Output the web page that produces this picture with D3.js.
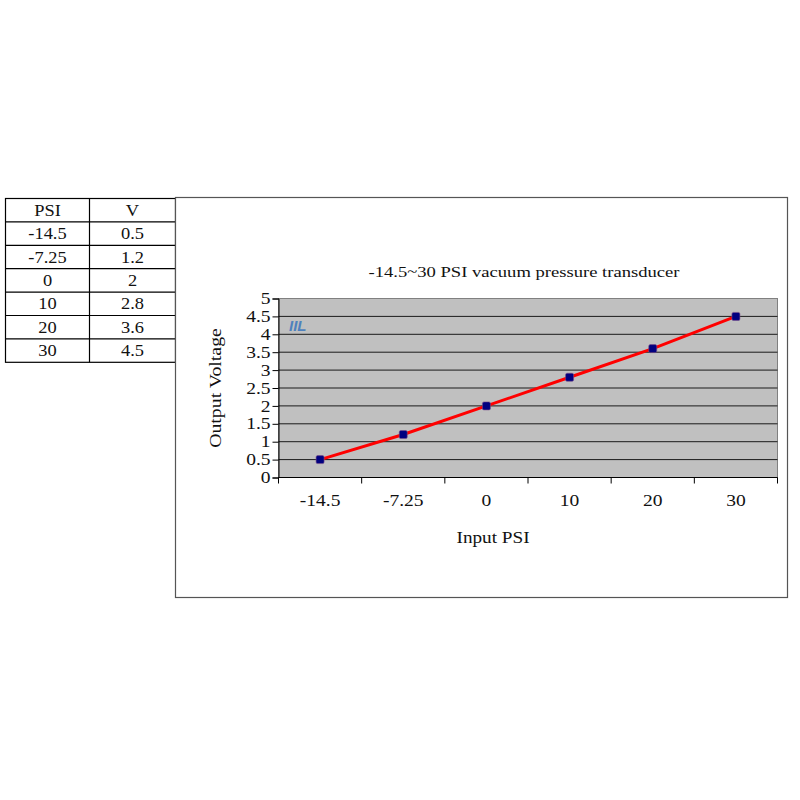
<!DOCTYPE html>
<html>
<head>
<meta charset="utf-8">
<script src="https://cdn.jsdelivr.net/npm/d3@7"></script>
<style>
  body { margin: 0; background: #fff; }
  text { font-family: "Liberation Serif", "Times New Roman", serif; }
</style>
</head>
<body>
<div id="chart"></div>
<script>
var width = 800, height = 800;

// data
var psi = ["-14.5", "-7.25", "0", "10", "20", "30"];
var volts = [0.5, 1.2, 2, 2.8, 3.6, 4.5];
var yTicks = [0, 0.5, 1, 1.5, 2, 2.5, 3, 3.5, 4, 4.5, 5];
var tableHead = ["PSI", "V"];
var tableVolts = ["0.5", "1.2", "2", "2.8", "3.6", "4.5"];

var svg = d3.select("#chart")
  .append("svg")
    .attr("width", width)
    .attr("height", height);

// the original's serif text looks stretched sideways a bit
function label(parent, x, y, str, size, sx, rot) {
  return parent.append("text")
      .attr("transform", "translate(" + x + "," + y + ")" + (rot ? " rotate(" + rot + ")" : "") + " scale(" + sx + ",1)")
      .attr("text-anchor", "middle")
      .attr("font-size", size)
      .attr("fill", "#111")
      .text(str);
}

// ---- table on the left
var rowH = 23.4, tableTop = 198.5;
var colX = [5.5, 89.5, 175.5];
var rows = [tableHead].concat(psi.map(function(p, i) { return [p, tableVolts[i]]; }));

var tbl = svg.append("g");
tbl.append("rect")
    .attr("x", colX[0]).attr("y", tableTop)
    .attr("width", colX[2] - colX[0]).attr("height", rowH * rows.length)
    .attr("fill", "none").attr("stroke", "#000").attr("stroke-width", 1.2);
rows.forEach(function(r, i) {
  if (i > 0) {
    tbl.append("line")
        .attr("x1", colX[0]).attr("x2", colX[2])
        .attr("y1", tableTop + i * rowH).attr("y2", tableTop + i * rowH)
        .attr("stroke", "#000").attr("stroke-width", 1.2);
  }
  r.forEach(function(c, j) {
    label(tbl, (colX[j] + colX[j + 1]) / 2, tableTop + i * rowH + rowH / 2 + 5.5, c, 16, 1.15);
  });
});
tbl.append("line")
    .attr("x1", colX[1]).attr("x2", colX[1])
    .attr("y1", tableTop).attr("y2", tableTop + rowH * rows.length)
    .attr("stroke", "#000").attr("stroke-width", 1.2);

// ---- chart frame
svg.append("rect")
    .attr("x", 175.5).attr("y", 197.5)
    .attr("width", 612).attr("height", 400)
    .attr("fill", "#fff").attr("stroke", "#555").attr("stroke-width", 1.2);

var plot = { left: 278.5, right: 777.5, top: 298.5, bottom: 477.5 };

var x = d3.scaleBand()
    .domain(psi)
    .range([plot.left, plot.right]);

var y = d3.scaleLinear()
    .domain([0, 5])
    .range([plot.bottom, plot.top]);

var g = svg.append("g");

g.append("rect")
    .attr("x", plot.left).attr("y", plot.top)
    .attr("width", plot.right - plot.left).attr("height", plot.bottom - plot.top)
    .attr("fill", "#c0c0c0").attr("stroke", "#808080");

g.selectAll("line.grid")
    .data(yTicks.filter(function(d) { return d > 0 && d < 5; }))
  .enter().append("line")
    .attr("class", "grid")
    .attr("x1", plot.left).attr("x2", plot.right)
    .attr("y1", function(d) { return y(d); })
    .attr("y2", function(d) { return y(d); })
    .attr("stroke", "#1a1a1a").attr("stroke-width", 1);

// watermark
g.append("text")
    .attr("x", 289).attr("y", 331)
    .attr("font-style", "italic").attr("font-weight", "bold")
    .attr("font-size", 15)
    .attr("fill", "#4f81bd")
    .style("font-family", "'Liberation Sans', Arial, sans-serif")
    .text("IIL");

// y axis
var yAxis = d3.axisLeft(y)
    .tickValues(yTicks)
    .tickSize(6)
    .tickFormat(d3.format("~g"));
var ya = svg.append("g")
    .attr("transform", "translate(" + plot.left + ",0)")
    .call(yAxis);
ya.select(".domain").attr("stroke", "#000");
ya.selectAll(".tick line").attr("stroke", "#000");
ya.selectAll(".tick text")
    .attr("font-size", 16)
    .attr("font-family", "Liberation Serif, serif")
    .attr("x", -6.5)
    .attr("transform", "scale(1.22,1)")
    .attr("fill", "#111");

// x axis: ticks at band boundaries like the original
var xa = svg.append("g")
    .attr("transform", "translate(0," + plot.bottom + ")");
xa.append("line")
    .attr("x1", plot.left).attr("x2", plot.right)
    .attr("stroke", "#000");
var bounds = psi.map(function(d) { return x(d); }).concat([x(psi[psi.length - 1]) + x.bandwidth()]);
xa.selectAll("line.tk")
    .data(bounds)
  .enter().append("line")
    .attr("class", "tk")
    .attr("x1", function(d) { return d; }).attr("x2", function(d) { return d; })
    .attr("y1", 0).attr("y2", 6)
    .attr("stroke", "#000");
psi.forEach(function(d) {
  label(xa, x(d) + x.bandwidth() / 2, 28.5, d, 16, 1.22);
});

// line + markers
var line = d3.line()
    .x(function(d, i) { return x(psi[i]) + x.bandwidth() / 2; })
    .y(function(d) { return y(d); });

g.append("path")
    .datum(volts)
    .attr("d", line)
    .attr("fill", "none")
    .attr("stroke", "#ff0000")
    .attr("stroke-width", 3);

g.selectAll("rect.mk")
    .data(volts)
  .enter().append("rect")
    .attr("class", "mk")
    .attr("x", function(d, i) { return x(psi[i]) + x.bandwidth() / 2 - 4; })
    .attr("y", function(d) { return y(d) - 4; })
    .attr("width", 8).attr("height", 8)
    .attr("rx", 1.5)
    .attr("fill", "#000080")
    .attr("stroke", "#7a4a8a").attr("stroke-width", 0.6);

// titles
label(svg, 524, 277, "-14.5~30 PSI vacuum pressure transducer", 15.5, 1.2);
label(svg, 493, 543, "Input PSI", 16, 1.2);
label(svg, 221, 388, "Output Voltage", 16.5, 1.2, -90);
</script>
</body>
</html>
